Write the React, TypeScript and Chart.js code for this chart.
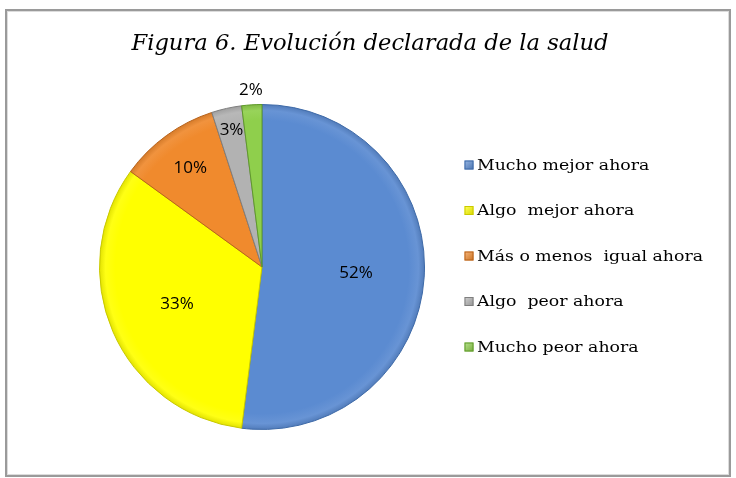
import React, { useEffect, useRef } from "react";
import { Chart, registerables } from "chart.js";

Chart.register(...registerables);

const TITLE = "Figura 6. Evolución declarada de la salud";
const CATEGORIES = [
  "Mucho mejor ahora",
  "Algo  mejor ahora",
  "Más o menos  igual ahora",
  "Algo  peor ahora",
  "Mucho peor ahora",
];
const VALUES = [52, 33, 10, 3, 2];
const COLORS = ["#5b8bd1", "#ffff00", "#f08a2d", "#b2b2b2", "#8fcf4c"];
const EDGE_COLORS = ["#3e6aa8", "#c9c900", "#b8621a", "#7f7f7f", "#5f9a2a"];

function shade(hex: string, amt: number) {
  const n = parseInt(hex.slice(1), 16);
  let r = (n >> 16) & 255, g = (n >> 8) & 255, b = n & 255;
  const f = (c: number) => Math.max(0, Math.min(255, Math.round(amt >= 0 ? c + (255 - c) * amt : c * (1 + amt))));
  return `rgb(${f(r)},${f(g)},${f(b)})`;
}

const framePlugin = {
  id: "frameTitleLegend",
  beforeDraw(chart: any) {
    const ctx = chart.ctx;
    ctx.save();
    ctx.fillStyle = "#ffffff";
    ctx.fillRect(0, 0, chart.width, chart.height);
    ctx.strokeStyle = "#9a9a9a";
    ctx.lineWidth = 2;
    ctx.strokeRect(6, 10, 724, 466);
    ctx.strokeStyle = "#dcdcdc";
    ctx.lineWidth = 1;
    ctx.strokeRect(7.5, 11.5, 721, 463);
    ctx.restore();
  },
  afterDraw(chart: any) {
    const ctx = chart.ctx;
    ctx.save();
    // title
    let size = 21;
    ctx.font = `italic ${size}px "DejaVu Serif"`;
    const w = ctx.measureText(TITLE).width;
    size = (size * 477) / w;
    ctx.font = `italic ${size.toFixed(2)}px "DejaVu Serif"`;
    ctx.fillStyle = "#000";
    ctx.textAlign = "center";
    ctx.textBaseline = "alphabetic";
    ctx.fillText(TITLE, 370, 50);
    // legend
    ctx.font = `14.5px "DejaVu Serif"`;
    ctx.textAlign = "left";
    ctx.textBaseline = "middle";
    const widest = Math.max(...CATEGORIES.map((l) => ctx.measureText(l).width));
    const sx = 226 / widest;
    const ys = [165, 211, 256, 301, 347];
    CATEGORIES.forEach((label, i) => {
      const y = ys[0] + i * 45.5;
      const g = ctx.createLinearGradient(465, y - 4, 473, y + 4);
      g.addColorStop(0, shade(COLORS[i], 0.35));
      g.addColorStop(1, shade(COLORS[i], -0.15));
      ctx.fillStyle = g;
      ctx.fillRect(464.5, y - 4.5, 9, 9);
      ctx.strokeStyle = EDGE_COLORS[i];
      ctx.lineWidth = 1;
      ctx.strokeRect(465, y - 4, 8, 8);
      ctx.fillStyle = "#000";
      ctx.save();
      ctx.translate(477, y + 1);
      ctx.scale(sx, 1);
      ctx.fillText(label, 0, 0);
      ctx.restore();
    });
    ctx.restore();
  },
  afterDatasetsDraw(chart: any) {
    const ctx = chart.ctx;
    const meta = chart.getDatasetMeta(0);
    const radial = [0.58, 0.57, 0.75, 0.86, 1.09];
    ctx.save();
    ctx.font = `17px "Open Sans"`;
    ctx.fillStyle = "#000";
    ctx.textAlign = "center";
    ctx.textBaseline = "middle";
    meta.data.forEach((arc: any, i: number) => {
      const p = arc.getProps(["x", "y", "startAngle", "endAngle", "outerRadius"], true);
      const mid = (p.startAngle + p.endAngle) / 2;
      const r = p.outerRadius * radial[i];
      ctx.fillText(`${VALUES[i]}%`, p.x + Math.cos(mid) * r, p.y + Math.sin(mid) * r);
    });
    ctx.restore();
  },
};

export default function App() {
  const ref = useRef<HTMLCanvasElement | null>(null);
  useEffect(() => {
    if (!ref.current) return;
    const chart = new Chart(ref.current, {
      type: "pie",
      data: {
        labels: CATEGORIES,
        datasets: [
          {
            data: VALUES,
            backgroundColor: (c: any) => {
              const i = c.dataIndex;
              const area = c.chart.chartArea;
              if (!area || i === undefined) return COLORS[i ?? 0];
              const cx = (area.left + area.right) / 2;
              const cy = (area.top + area.bottom) / 2;
              const R = Math.min(area.right - area.left, area.bottom - area.top) / 2;
              const g = c.chart.ctx.createRadialGradient(cx, cy, 0, cx, cy, R);
              g.addColorStop(0, COLORS[i]);
              g.addColorStop(0.9, COLORS[i]);
              g.addColorStop(0.96, shade(COLORS[i], 0.08));
              g.addColorStop(1, shade(COLORS[i], -0.12));
              return g;
            },
            borderColor: EDGE_COLORS,
            borderWidth: 1,
          },
        ],
      },
      options: {
        responsive: false,
        animation: false,
        layout: { padding: { left: 99, top: 104, right: 311, bottom: 48 } },
        plugins: {
          legend: { display: false },
          tooltip: { enabled: false },
          title: { display: false },
        },
      },
      plugins: [framePlugin],
    });
    return () => chart.destroy();
  }, []);
  return (
    <div style={{ position: "fixed", left: 0, top: 0, width: 736, height: 478 }}>
      <canvas ref={ref} width={736} height={478} style={{ display: "block", width: 736, height: 478 }} />
    </div>
  );
}
